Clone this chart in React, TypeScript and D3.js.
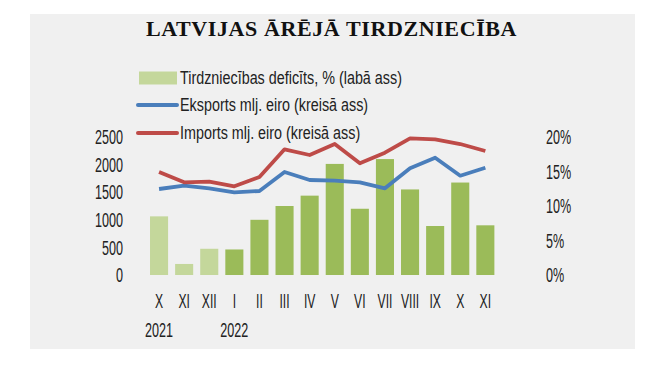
import React from "react";
import * as d3 from "d3";

const months = ["X", "XI", "XII", "I", "II", "III", "IV", "V", "VI", "VII", "VIII", "IX", "X", "XI"];
const monthYear = [2021, 2021, 2021, 2022, 2022, 2022, 2022, 2022, 2022, 2022, 2022, 2022, 2022, 2022];
const yearLabels = [
  { idx: 0, label: "2021" },
  { idx: 3, label: "2022" },
];
const deficit = [8.5, 1.6, 3.8, 3.7, 8.0, 10.0, 11.5, 16.1, 9.6, 16.8, 12.4, 7.1, 13.4, 7.2];
const exports = [1558, 1618, 1570, 1498, 1522, 1866, 1721, 1708, 1679, 1570, 1933, 2125, 1799, 1944];
const imports = [1866, 1679, 1690, 1607, 1775, 2277, 2174, 2373, 2024, 2216, 2476, 2458, 2373, 2246];
const leftTicks = [0, 500, 1000, 1500, 2000, 2500];
const rightTicks = [0, 5, 10, 15, 20];

const title = "LATVIJAS ĀRĒJĀ TIRDZNIECĪBA";
const legendLabels = [
  "Tirdzniecības deficīts, % (labā ass)",
  "Eksports mlj. eiro (kreisā ass)",
  "Imports mlj. eiro (kreisā ass)",
];

const C_BAR = "#9BBB59";
const C_BAR_LIGHT = "#C4D79B";
const C_BLUE = "#4A7EBB";
const C_RED = "#BE4B48";
const FONT = "'Liberation Sans', Arial, sans-serif";

function CText({ x, y, anchor = "start", sx = 0.6, size = 20, children }: any) {
  return (
    <g transform={`translate(${x},${y}) scale(${sx},1)`}>
      <text x={0} y={0} textAnchor={anchor} dominantBaseline="central" fontFamily={FONT} fontSize={size} fill="#222">
        {children}
      </text>
    </g>
  );
}

export default function App() {
  const W = 665;
  const H = 375;
  const x = d3
    .scaleBand<number>()
    .domain(months.map((_, i) => i))
    .range([146.5, 497.9])
    .paddingInner(0.28)
    .paddingOuter(0.14);
  const yL = d3.scaleLinear().domain([0, 2500]).range([275, 137]);
  const yR = d3.scaleLinear().domain([0, 20]).range([275, 137]);
  const cx = (i: number) => (x(i) as number) + x.bandwidth() / 2;
  const line = d3
    .line<number>()
    .x((_, i) => cx(i))
    .y((d) => yL(d));

  return (
    <svg width={W} height={H} style={{ position: "absolute", left: 0, top: 0, display: "block" }}>
      <rect x={0} y={0} width={W} height={H} fill="#fff" />
      <rect x={30} y={14} width={605} height={335} fill="#F0F0F0" />
      <text
        x={331.5}
        y={36}
        textAnchor="middle"
        fontFamily="'Liberation Serif', 'Times New Roman', serif"
        fontWeight="bold"
        fontSize={22}
        letterSpacing={0.6}
        fill="#111"
      >
        {title}
      </text>

      {/* legend */}
      <rect x={139} y={71.5} width={38} height={13} fill={C_BAR_LIGHT} />
      <CText x={180} y={78} sx={0.82} size={17.5}>{legendLabels[0]}</CText>
      <line x1={138} x2={177} y1={105} y2={105} stroke={C_BLUE} strokeWidth={4} strokeLinecap="round" />
      <CText x={180} y={105} sx={0.82} size={17.5}>{legendLabels[1]}</CText>
      <line x1={138} x2={177} y1={133} y2={133} stroke={C_RED} strokeWidth={4} strokeLinecap="round" />
      <CText x={180} y={133} sx={0.82} size={17.5}>{legendLabels[2]}</CText>

      {/* bars */}
      {deficit.map((d, i) => (
        <rect
          key={i}
          x={x(i)}
          y={yR(d)}
          width={x.bandwidth()}
          height={yR(0) - yR(d)}
          fill={monthYear[i] === 2021 ? C_BAR_LIGHT : C_BAR}
        />
      ))}

      <path d={line(exports) || ""} fill="none" stroke={C_BLUE} strokeWidth={3.8} strokeLinejoin="round" />
      <path d={line(imports) || ""} fill="none" stroke={C_RED} strokeWidth={3.8} strokeLinejoin="round" />

      {/* left axis */}
      {leftTicks.map((t) => (
        <CText key={t} x={123} y={yL(t)} anchor="end" sx={0.6} size={21}>{t}</CText>
      ))}
      {/* right axis */}
      {rightTicks.map((t) => (
        <CText key={t} x={546} y={yR(t)} anchor="start" sx={0.6} size={21}>{`${t}%`}</CText>
      ))}
      {/* x axis */}
      {months.map((m, i) => (
        <CText key={i} x={cx(i)} y={301} anchor="middle" sx={0.58} size={21}>{m}</CText>
      ))}
      {yearLabels.map((yl) => (
        <CText key={yl.label} x={cx(yl.idx)} y={330} anchor="middle" sx={0.6} size={21}>{yl.label}</CText>
      ))}
    </svg>
  );
}
